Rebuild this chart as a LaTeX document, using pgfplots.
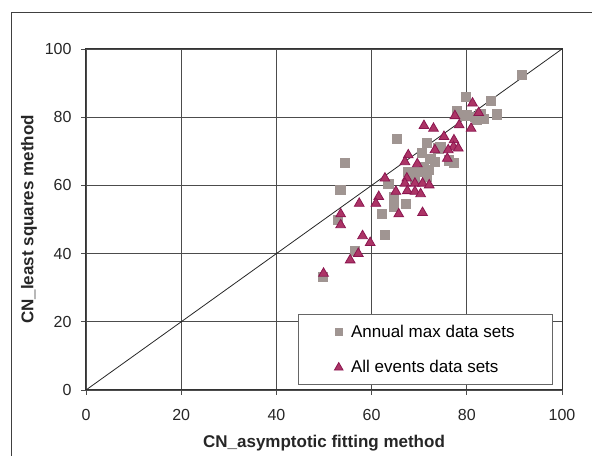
\documentclass[border=0pt]{standalone}
\usepackage{pgfplots}
\pgfplotsset{compat=1.18}
\usepackage{fontspec}
\setmainfont{Liberation Sans}
\definecolor{sqcol}{RGB}{160,149,146}
\definecolor{trifill}{RGB}{172,52,102}
\definecolor{triedge}{RGB}{140,22,80}
\begin{document}
\begin{tikzpicture}[x=1bp,y=1bp]
\useasboundingbox (-86,-66) rectangle (506,390);
\draw[black!75, line width=0.8bp] (-75,-80) -- (-75,378) -- (520,378);
\begin{axis}[
    at={(0,0)}, anchor=south west,
    scale only axis, width=476bp, height=341bp,
    xmin=0, xmax=100, ymin=0, ymax=100,
    xtick={0,20,...,100}, ytick={0,20,...,100},
    xtick pos=left, ytick pos=left,
    tick align=outside, major tick length=5bp,
    grid=major,
    major grid style={black!70, line width=0.8bp},
    axis line style={black!80, line width=1bp},
    tick style={black!70, line width=0.7bp},
    tick label style={font=\fontsize{16bp}{18bp}\selectfont, text=black!85},
    yticklabel style={xshift=-6bp},
    xticklabel style={yshift=-11bp},
    /pgf/number format/assume math mode=true,
    xlabel={\bfseries CN\_asymptotic fitting method},
    ylabel={\bfseries CN\_least squares method},
    label style={font=\fontsize{17bp}{20bp}\selectfont, text=black!85},
    xlabel style={yshift=-7bp},
    ylabel style={yshift=1bp},
    legend style={at={(0.981,0.015)}, anchor=south east,
        draw=black!60, line width=0.8bp,
        font=\fontsize{17bp}{19bp}\selectfont,
        nodes={inner sep=2bp},
        /tikz/every odd column/.append style={column sep=6bp},
        inner xsep=36bp, inner ysep=8bp, row sep=18bp},
    legend cell align=left,
]
\addplot[black!85, line width=0.8bp, forget plot] coordinates {(0,0) (100,100)};
\addplot[only marks, mark=square*, mark size=4.6bp, draw=sqcol, fill=sqcol,
    legend image post style={mark size=3.6bp}] coordinates {
(91.5,92.4) (79.8,86.0) (85.0,84.8) (86.3,80.9) (77.8,81.9) (80.0,80.6)
(81.7,80.1) (83.5,79.6) (82.8,80.9) (79.3,80.6) (82.1,79.2) (65.3,73.6)
(71.6,72.6) (54.3,66.7) (53.4,58.8) (74.0,70.9) (74.4,71.3) (72.3,67.9)
(73.3,66.9) (70.9,65.5) (71.9,64.5) (69.5,64.0) (77.2,66.7) (76.2,67.4)
(63.5,60.6) (64.6,56.7) (64.6,53.8) (67.2,54.7) (62.2,51.6) (62.7,45.5)
(52.8,49.9) (56.5,40.9) (49.7,33.2) (69.0,62.0) (71.5,62.5) (67.5,64.0)
(70.5,69.5)
};
\addlegendentry{Annual max data sets}
\addplot[only marks, mark=triangle*, mark size=5.6bp, draw=triedge, fill=trifill, line width=0.8bp,
    legend image post style={mark size=5bp}] coordinates {
(81.2,84.1) (82.5,81.3) (77.5,80.4) (78.4,77.7) (80.9,76.7) (71.0,77.5)
(73.0,76.7) (75.2,74.3) (77.3,73.3) (73.3,70.4) (77.2,71.3) (76.1,70.4)
(78.2,70.9) (75.9,67.9) (67.7,68.9) (67.0,66.9) (69.6,66.3) (62.8,62.1)
(67.4,62.1) (67.0,60.6) (69.1,60.6) (70.7,60.6) (72.1,60.1) (65.1,58.2)
(67.5,58.4) (69.1,58.2) (70.3,57.5) (61.5,56.7) (60.9,54.7) (57.4,54.7)
(65.7,51.6) (70.7,52.0) (53.5,51.6) (53.5,48.4) (58.1,45.2) (59.7,43.2)
(57.2,40.0) (55.5,38.1) (49.9,34.2)
};
\addlegendentry{All events data sets}
\end{axis}
\end{tikzpicture}
\end{document}
